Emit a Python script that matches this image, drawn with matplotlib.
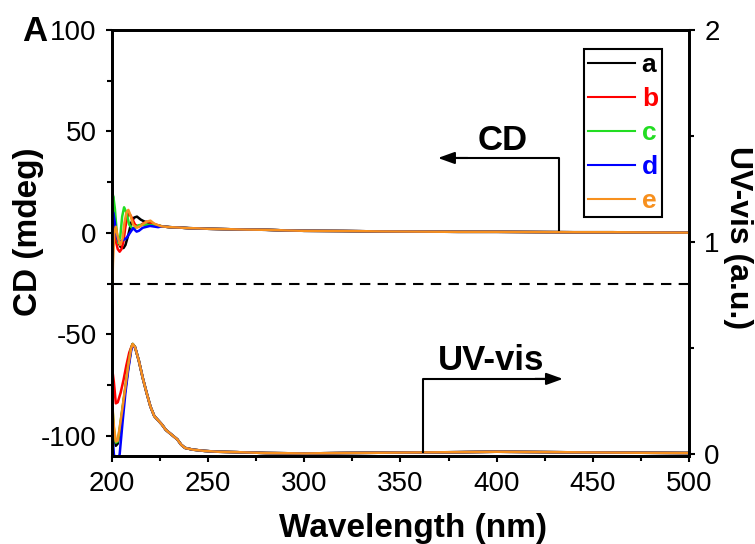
import matplotlib
matplotlib.use('Agg')
import matplotlib.pyplot as plt
import numpy as np

plt.rcParams['font.family'] = ['Liberation Sans', 'DejaVu Sans']
plt.rcParams['axes.unicode_minus'] = False

# CD spectra (mdeg)
cd_tail_wl = [226, 230, 235, 240, 245, 250, 260, 270, 280, 290, 300, 320, 340, 360, 380, 400, 420, 440, 460, 480, 500]
cd_tail = [3.2, 2.8, 2.6, 2.3, 2.2, 2.0, 1.8, 1.6, 1.5, 1.2, 1.0, 0.9, 0.7, 0.6, 0.5, 0.5, 0.4, 0.3, 0.3, 0.2, 0.1]

cd_a_wl = [200, 201, 202, 203, 204.5, 206, 207, 208.5, 210, 211.5, 213, 215, 217, 219, 222, 225]
cd_a = [24, 12, 2, -4, -7, -7.5, -6, -1, 5, 7.5, 8, 6.5, 5.5, 5, 4, 3.4]
cd_b_wl = [200, 201, 202, 203, 204, 205, 206, 207, 208, 209, 210, 212, 214, 216, 218, 220, 223, 225]
cd_b = [4, 2, -4, -8, -9.3, -8, -4, 3, 8, 9.5, 8, 4, 3, 4.5, 5.5, 5, 4, 3.4]
cd_c_wl = [200, 200.7, 201.5, 202.5, 203.3, 204.3, 205.3, 206.3, 207.5, 209, 210.5, 212, 214, 217, 220, 225]
cd_c = [17, 18, 12, 0, -5, -2, 8, 12.6, 10, 4, 2.3, 2.5, 3.8, 4, 3.8, 3.4]
cd_d_wl = [200, 200.7, 201.5, 202.5, 203.5, 205, 207.5, 209, 211, 212.8, 214, 216, 219.8, 224, 225]
cd_d = [9, 10, 5, -2, -4.3, -4, -2.6, -0.5, 2.3, 0.6, 1, 2.5, 3.4, 2.8, 3.0]
cd_e_wl = [200, 200.5, 201.2, 202, 203, 204.2, 205.5, 206.5, 207.5, 208.5, 209.5, 211, 213, 215, 218, 220, 222, 225]
cd_e = [-35, -15, 0, 3, -2, -6, -3, 5, 10, 11.3, 9, 4, 2.5, 3.5, 5.5, 6, 4.5, 3.4]

# UV-vis spectra (a.u.)
uv_tail_wl = [212, 214, 216, 218, 220, 222, 224, 226, 228, 230, 232, 234, 236, 238, 242, 248, 255, 265,
              280, 300, 320, 350, 380, 400, 430, 460, 500]
uv_tail = [0.505, 0.44, 0.36, 0.29, 0.225, 0.18, 0.16, 0.14, 0.115, 0.10, 0.085, 0.07, 0.045, 0.03,
           0.022, 0.016, 0.012, 0.01, 0.006, 0.004, 0.006, 0.008, 0.01, 0.012, 0.01, 0.008, 0.006]
uv_a_wl = [200, 201, 202, 203, 204, 205.5, 207, 208.5, 210, 210.8]
uv_a = [0.22, 0.10, 0.04, 0.05, 0.11, 0.21, 0.31, 0.41, 0.50, 0.52]
uv_b_wl = [200, 201, 202, 203, 204.5, 206, 207.5, 209, 210.6]
uv_b = [0.41, 0.34, 0.24, 0.245, 0.29, 0.35, 0.42, 0.48, 0.518]
uv_c_wl = [200, 201, 202, 203, 204, 205.5, 207, 208.5, 210, 210.8]
uv_c = [0.25, 0.12, 0.055, 0.06, 0.12, 0.22, 0.32, 0.42, 0.50, 0.52]
uv_d_wl = [200, 201, 202, 203, 204, 205.5, 207, 208.5, 210, 211]
uv_d = [0.12, 0.0, -0.03, -0.03, 0.0, 0.15, 0.29, 0.40, 0.49, 0.515]
uv_e_wl = [200, 201, 202, 203, 204, 205.5, 207, 208.5, 210, 210.8]
uv_e = [0.26, 0.13, 0.06, 0.065, 0.125, 0.22, 0.32, 0.42, 0.50, 0.52]

labels = ['a', 'b', 'c', 'd', 'e']
colors = ['black', '#ff0000', '#22dd22', '#0000ff', '#f7901e']

cd_wls = [cd_a_wl, cd_b_wl, cd_c_wl, cd_d_wl, cd_e_wl]
cd_vals = [cd_a, cd_b, cd_c, cd_d, cd_e]
uv_wls = [uv_a_wl, uv_b_wl, uv_c_wl, uv_d_wl, uv_e_wl]
uv_vals = [uv_a, uv_b, uv_c, uv_d, uv_e]

fig = plt.figure(figsize=(7.55, 5.44), dpi=100)
ax = fig.add_axes([0.1483, 0.1618, 0.7642, 0.7831])
ax2 = ax.twinx()

for i in range(5):
    wl = list(uv_wls[i]) + uv_tail_wl
    v = list(uv_vals[i]) + uv_tail
    ax2.plot(wl, v, color=colors[i], lw=1.8)

lines = []
for i in range(5):
    wl = list(cd_wls[i]) + cd_tail_wl
    v = list(cd_vals[i]) + cd_tail
    ln, = ax.plot(wl, v, color=colors[i], lw=1.8, label=labels[i])
    lines.append(ln)

ax.axhline(-25, color='black', lw=1.5, ls=(0, (5, 3.5)))

ax.set_xlim(200, 500)
ax.set_ylim(-110, 100)
ax2.set_ylim(-0.008, 2)
ax.set_zorder(ax2.get_zorder() + 1)
ax.patch.set_visible(False)

ax.set_xticks(np.arange(200, 501, 50))
ax.set_xticks(np.arange(225, 500, 50), minor=True)
ax.set_yticks([-100, -50, 0, 50, 100])
ax.set_yticks([-75, -25, 25, 75], minor=True)
ax2.set_yticks([0, 1, 2])
ax2.set_yticks([0.5, 1.5], minor=True)

for a in (ax, ax2):
    a.tick_params(which='both', direction='out', labelsize=20, width=1.5, pad=7)
    a.tick_params(which='major', length=4)
    a.tick_params(which='minor', length=3.5)
    for s in a.spines.values():
        s.set_linewidth(2)
ax.tick_params(axis='x', top=False)

# axis titles placed by hand
fig.text(413.5 / 755, 1 - 528 / 544, 'Wavelength (nm)', fontsize=24, fontweight='bold',
         ha='center', va='center')
fig.text(28 / 755, 1 - 232 / 544, 'CD (mdeg)', fontsize=24, fontweight='bold',
         ha='center', va='center', rotation=90)
fig.text(738 / 755, 1 - 238 / 544, 'UV-vis (a.u.)', fontsize=23, fontweight='bold',
         ha='center', va='center', rotation=270)

leg = ax.legend(handles=lines, loc='upper right', bbox_to_anchor=(0.953, 0.955),
                fontsize=19, handlelength=1.8, handletextpad=0.25, labelspacing=0.38,
                borderpad=0.15, fancybox=False, framealpha=1, borderaxespad=0)
leg.get_frame().set_edgecolor('black')
leg.get_frame().set_linewidth(1.5)
for t, c in zip(leg.get_texts(), colors):
    t.set_color(c)
    t.set_fontweight('bold')
for h in leg.legend_handles:
    h.set_linewidth(1.5)

arrow_style = dict(arrowstyle='-|>,head_length=0.5,head_width=0.18', color='black',
                   lw=1.5, mutation_scale=20, shrinkA=0, shrinkB=0)

# CD arrow
ax.plot([432.5, 432.5, 375], [1.4, 36.9, 36.9], color='black', lw=1.5)
ax.annotate('', xy=(369.5, 36.9), xytext=(385, 36.9), arrowprops=arrow_style)
ax.text(403.3, 40.9, 'CD', fontsize=25, fontweight='bold', ha='center', va='baseline')

# UV-vis arrow
ax.plot([361.7, 361.7, 429], [-108, -72, -72], color='black', lw=1.5)
ax.annotate('', xy=(434.5, -72), xytext=(420, -72), arrowprops=arrow_style)
ax.text(396.9, -67.7, 'UV-vis', fontsize=25, fontweight='bold', ha='center', va='baseline')

fig.text(34.5 / 755, 1 - 31.5 / 544, 'A', fontsize=25, fontweight='bold', ha='center', va='center')

fig.savefig('out.png', dpi=100)
